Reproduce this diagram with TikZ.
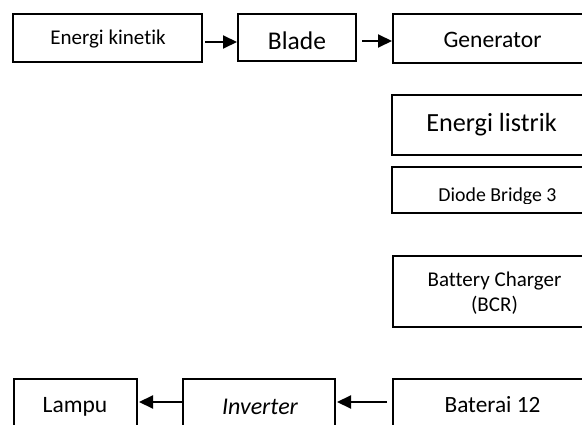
\documentclass[tikz,border=0pt]{standalone}
\usepackage{fontspec}
\setmainfont{Carlito}[Ligatures=NoCommon]
\usetikzlibrary{arrows.meta,calc}
\tikzset{
  blk/.style={draw=black, line width=2pt, rectangle, inner sep=0pt, fill=white},
  txt/.style={anchor=base, inner sep=0pt},
  arr/.style={line width=2pt, -{Triangle[length=14pt,width=13pt]}},
}
\newcommand{\fs}[1]{\fontsize{#1}{#1}\selectfont}
\begin{document}
\begin{tikzpicture}[x=1pt,y=-1pt]
\useasboundingbox (0,0) rectangle (582,425);
\clip (0,0) rectangle (582,425);
\fill[white] (0,0) rectangle (582,425);
% boxes
\node[blk, minimum width=189pt, minimum height=48pt] (ek) at (107.5,38) {};
\node[blk, minimum width=118pt, minimum height=47pt] (blade) at (297,37.5) {};
\node[blk, minimum width=200pt, minimum height=49pt] (gen) at (493,38.5) {};
\node[blk, minimum width=201pt, minimum height=60pt] (el) at (492.5,125) {};
\node[blk, minimum width=201pt, minimum height=46pt] (diode) at (492.5,190) {};
\node[blk, minimum width=200pt, minimum height=71pt] (bcr) at (493,291.5) {};
\node[blk, minimum width=123pt, minimum height=80pt] (lampu) at (75.5,419) {};
\node[blk, minimum width=152pt, minimum height=80pt] (inv) at (259,419) {};
\node[blk, minimum width=200pt, minimum height=80pt] (bat) at (493,419) {};
% texts
\node[txt, font=\fs{21}] (tek) at (108,45) {Energi kinetik};
\node[txt, font=\fs{25.5}] (tblade) at (297,50) {Blade};
\node[txt, font=\fs{23.6}] (tgen) at (492.5,48) {Generator};
\node[txt, font=\fs{26.2}] (tel) at (491.5,132) {Energi listrik};
\begin{scope}
\clip (395,170) rectangle (590,203.5);
\node[txt, font=\fs{19.8}] (tdiode) at (497.5,202) {Diode Bridge 3};
\end{scope}
\node[txt, font=\fs{21}] (tbcr1) at (494.5,287) {Battery Charger};
\node[txt, font=\fs{21}] (tbcr2) at (494.5,312) {(BCR)};
\node[txt, font=\fs{23.5}] (tlampu) at (75,413) {Lampu};
\node[txt, font=\fs{24}\itshape] (tinv) at (260,414) {Inverter};
\node[txt, font=\fs{23.3}] (tbat) at (492.5,413) {Baterai 12};
% arrows
\coordinate (a1) at (ek.east |- 0,42);
\coordinate (a2) at (blade.east |- 0,41);
\coordinate (a3) at (bat.west |- 0,402);
\coordinate (a4) at (inv.west |- 0,402);
\draw[arr] ([xshift=2pt]a1) -- (blade.west |- a1);
\draw[arr] ([xshift=5pt]a2) -- (gen.west |- a2);
\draw[arr] ([xshift=-5pt]a3) -- ([xshift=1pt]inv.east |- a3);
\draw[arr] (a4) -- ([xshift=1pt]lampu.east |- a4);
\end{tikzpicture}
\end{document}
